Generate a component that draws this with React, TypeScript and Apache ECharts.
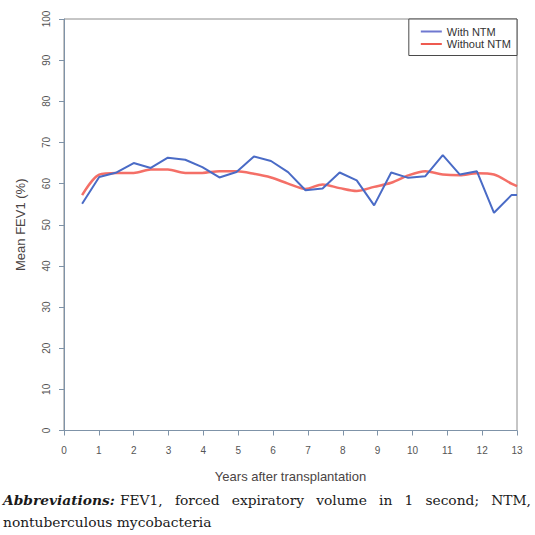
import React, { useEffect, useRef } from "react";
import * as echarts from "echarts";

const years = [0.52, 1.01, 1.51, 2.0, 2.49, 2.98, 3.48, 3.97, 4.46, 4.95, 5.45, 5.94, 6.43, 6.93, 7.42, 7.91, 8.4, 8.9, 9.39, 9.88, 10.37, 10.87, 11.36, 11.85, 12.34, 12.84, 13.0];
const withNTM = [55.1, 61.6, 62.7, 65.0, 63.8, 66.3, 65.8, 64.0, 61.5, 62.8, 66.6, 65.5, 62.8, 58.4, 58.8, 62.7, 60.8, 54.7, 62.7, 61.4, 61.8, 66.9, 62.2, 63.0, 52.9, 57.2, 57.2];
const withoutNTM = [57.2, 62.2, 62.6, 62.6, 63.4, 63.4, 62.6, 62.6, 63.0, 63.0, 62.4, 61.5, 60.0, 58.7, 59.8, 58.9, 58.2, 59.2, 60.2, 62.0, 63.0, 62.2, 62.0, 62.5, 62.2, 60.0, 59.4];
const seriesNames = ["With NTM", "Without NTM"];
const xTitle = "Years after transplantation";
const yTitle = "Mean FEV1 (%)";
const captionLead = "Abbreviations:";
const captionLine1 = "FEV1, forced expiratory volume in 1 second; NTM,";
const captionLine2 = "nontuberculous mycobacteria";

const FONT = "'Liberation Sans', Arial, sans-serif";

export default function App() {
  const ref = useRef<HTMLDivElement>(null);
  useEffect(() => {
    if (!ref.current) return;
    const chart = echarts.init(ref.current, null, { renderer: "svg" });
    const axisCommon = {
      type: "value" as const,
      axisLine: { show: true, lineStyle: { color: "#7f93a8", width: 1 } },
      axisTick: { show: true, length: 5, lineStyle: { color: "#7f93a8" } },
      splitLine: { show: false },
      nameLocation: "middle" as const,
      nameTextStyle: { fontSize: 13, color: "#4a4444", fontFamily: FONT },
    };
    chart.setOption({
      animation: false,
      backgroundColor: "#ffffff",
      textStyle: { fontFamily: FONT },
      grid: {
        left: 64,
        top: 19,
        width: 453,
        height: 411.5,
        show: true,
        borderColor: "#8c8c8c",
        borderWidth: 1,
      },
      legend: {
        data: [
          { name: seriesNames[0], itemStyle: { color: "#6f78d0" } },
          { name: seriesNames[1], itemStyle: { color: "#ee5a50" } },
        ],
        orient: "vertical",
        right: 18,
        top: 19,
        icon: "rect",
        itemWidth: 21,
        itemHeight: 2,
        itemGap: 1.5,
        padding: [7, 6, 6, 12],
        borderColor: "#4a4a4a",
        borderWidth: 1,
        backgroundColor: "#ffffff",
        textStyle: { fontSize: 11, color: "#333", fontFamily: FONT },
      },
      xAxis: {
        ...axisCommon,
        min: 0,
        max: 13,
        interval: 1,
        name: xTitle,
        nameGap: 39,
        axisLabel: { fontSize: 10, color: "#555", margin: 15, fontFamily: FONT },
      },
      yAxis: {
        ...axisCommon,
        min: 0,
        max: 100,
        interval: 10,
        name: yTitle,
        nameGap: 37,
        axisLabel: { fontSize: 10, color: "#555", margin: 13, rotate: 90, fontFamily: FONT },
      },
      series: [
        {
          name: seriesNames[0],
          type: "line",
          data: years.map((x, i) => [x, withNTM[i]]),
          symbol: "none",
          lineStyle: { color: "#4a6bc6", width: 2 },
          itemStyle: { color: "#4a6bc6" },
          z: 3,
        },
        {
          name: seriesNames[1],
          type: "line",
          data: years.map((x, i) => [x, withoutNTM[i]]),
          symbol: "none",
          smooth: 0.3,
          lineStyle: { color: "#f2564c", width: 2.5, opacity: 0.85 },
          itemStyle: { color: "#f2564c" },
          z: 2,
        },
      ],
    });
    return () => chart.dispose();
  }, []);

  const captionStyle: React.CSSProperties = {
    fontFamily: "'DejaVu Serif', serif",
    fontSize: 13.8,
    lineHeight: "21.5px",
    color: "#1a1a1a",
    whiteSpace: "nowrap",
  };

  return (
    <div style={{ position: "absolute", left: 0, top: 0, width: 535, height: 535, background: "#fff" }}>
      <div ref={ref} style={{ position: "absolute", left: 0, top: 0, width: 535, height: 535 }} />
      <div style={{ position: "absolute", left: 3, top: 490, width: 528 }}>
        <div style={{ ...captionStyle, whiteSpace: "normal", textAlign: "justify", textAlignLast: "justify" }}>
          <span style={{ fontWeight: "bold", fontStyle: "italic", marginRight: 5 }}>{captionLead}</span>
          <span>{captionLine1}</span>
        </div>
        <div style={captionStyle}>
          <span>{captionLine2}</span>
        </div>
      </div>
    </div>
  );
}
